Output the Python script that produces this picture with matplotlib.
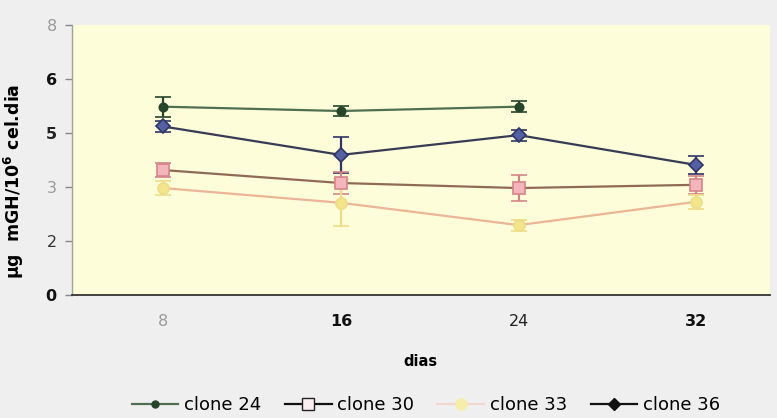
import matplotlib
matplotlib.use("Agg")
import matplotlib.pyplot as plt
from matplotlib.lines import Line2D

# Sampling days and growth-hormone yield per clone
dias = [8, 16, 24, 32]
clone24 = [5.23, 5.11, 5.23]
clone24_err = [0.28, 0.15, 0.15]
clone30 = [3.47, 3.11, 2.97, 3.06]
clone30_err = [0.2, 0.3, 0.35, 0.25]
clone33 = [2.97, 2.56, 1.94, 2.59]
clone33_err = [0.2, 0.65, 0.15, 0.2]
clone36 = [4.68, 3.89, 4.44, 3.61]
clone36_err = [0.15, 0.5, 0.15, 0.25]

y_ticks = [0, 1.5, 3, 4.5, 6, 7.5]
y_tick_labels = ["0", "2", "3", "5", "6", "8"]
x_tick_labels = ["8", "16", "24", "32"]

fig = plt.figure(figsize=(7.77, 4.18), dpi=100)
fig.patch.set_facecolor("#efefef")
ax = fig.add_axes([0.0927, 0.2943, 0.898, 0.646])
ax.set_facecolor("#fdfdd9")

series = [
    (dias[:3], clone24, clone24_err, "#4f6e52", "#27452b", "#27452b", "o", 6),
    (dias, clone36, clone36_err, "#373b55", "#5560a3", "#2f3566", "D", 7),
    (dias, clone30, clone30_err, "#8f6b55", "#f5b5bd", "#d4848a", "s", 9),
    (dias, clone33, clone33_err, "#ebb596", "#f3e58c", "#eedd88", "o", 8),
]
for x, y, e, lc, mfc, mec, mk, ms in series:
    ax.errorbar(x, y, yerr=e, color=lc, lw=1.6, marker=mk, ms=ms,
                mfc=mfc, mec=mec, mew=1.2, ecolor=mec, elinewidth=1.6,
                capsize=6, capthick=1.6, zorder=3)

ax.set_xlim(3.9, 35.3)
ax.set_ylim(0, 7.5)
ax.set_xticks(dias)
ax.set_xticklabels(x_tick_labels)
ax.set_yticks(y_ticks)
ax.set_yticklabels(y_tick_labels)

x_styles = [("#9a9a9a", "normal"), ("#111111", "bold"),
            ("#222222", "normal"), ("#111111", "bold")]
for lab, (c, w) in zip(ax.get_xticklabels(), x_styles):
    lab.set_color(c)
    lab.set_fontweight(w)
    lab.set_fontsize(11.5)
y_styles = [("#111111", "bold"), ("#333333", "normal"), ("#9a9a9a", "normal"),
            ("#222222", "bold"), ("#111111", "bold"), ("#9a9a9a", "normal")]
for lab, (c, w) in zip(ax.get_yticklabels(), y_styles):
    lab.set_color(c)
    lab.set_fontweight(w)
    lab.set_fontsize(11.5)

ax.tick_params(axis="x", length=0, pad=14)
ax.tick_params(axis="y", length=5, width=1, color="#888888", pad=6)
for s in ["top", "right"]:
    ax.spines[s].set_visible(False)
ax.spines["bottom"].set_color("#333333")
ax.spines["bottom"].set_linewidth(1.3)
ax.spines["left"].set_color("#a0a0a0")
ax.spines["left"].set_linewidth(1.0)

ax.set_xlabel("dias", fontsize=10.5, fontweight="bold", labelpad=18)
ax.set_ylabel("µg  mGH/10$^{\\mathbf{6}}$ cel.dia", fontsize=12.5,
              fontweight="bold")
ax.yaxis.set_label_coords(-0.066, 0.42)

handles = [
    Line2D([], [], color="#4f6e52", lw=1.6, marker="o", ms=5,
           mfc="#27452b", mec="#27452b"),
    Line2D([], [], color="#111111", lw=1.6, marker="s", ms=9,
           mfc="#fbeef0", mec="#222222"),
    Line2D([], [], color="#f2d6d0", lw=1.6, marker="o", ms=8,
           mfc="#f6eea8", mec="#f6eea8"),
    Line2D([], [], color="#111111", lw=1.6, marker="D", ms=6,
           mfc="#111111", mec="#111111"),
]
fig.legend(handles, ["clone 24", "clone 30", "clone 33", "clone 36"],
           loc="center", bbox_to_anchor=(0.548, 0.03), ncol=4,
           frameon=False, fontsize=13, handlelength=2.6,
           handletextpad=0.3, columnspacing=1.3)

fig.savefig("out.png", dpi=100, facecolor=fig.get_facecolor())
